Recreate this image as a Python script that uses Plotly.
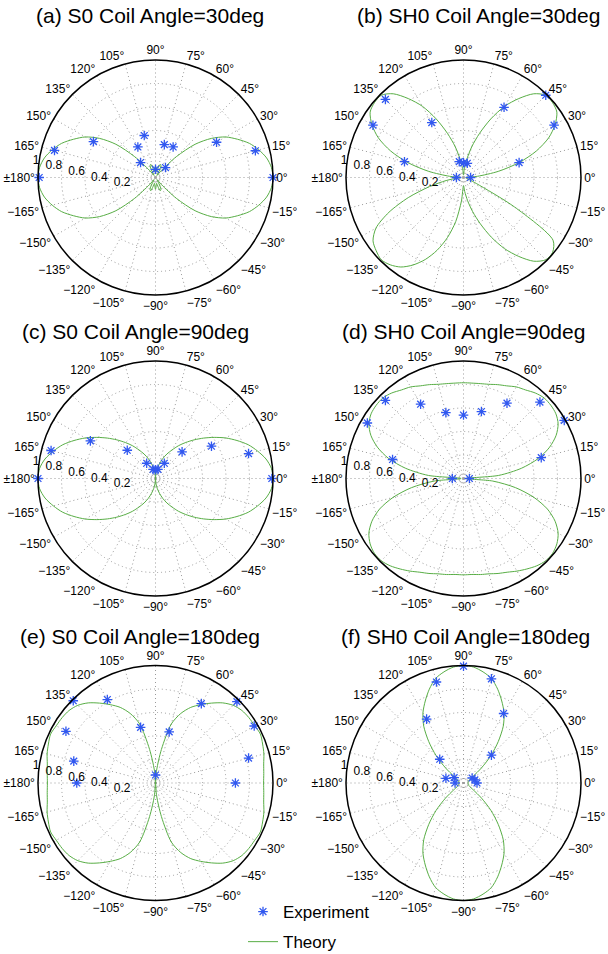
import plotly.graph_objects as go

# ---------------- data ----------------
TITLES = [
    "(a) S0 Coil Angle=30deg", "(b) SH0 Coil Angle=30deg",
    "(c) S0 Coil Angle=90deg", "(d) SH0 Coil Angle=90deg",
    "(e) S0 Coil Angle=180deg", "(f) SH0 Coil Angle=180deg",
]

# measurement angles (deg)
EXP_THETA = [0, 15, 30, 45, 60, 75, 90, 105, 120, 135, 150, 165, 180]
exp_a = [1.0, 0.88, 0.60, 0.12, 0.30, 0.29, 0.07, 0.37, 0.30, 0.18, 0.61, 0.89, 0.99]
exp_b = [0.06, 0.49, 0.89, 0.99, 0.69, 0.125, 0.125, 0.14, 0.54, 0.94, 0.89, 0.52, 0.06]
exp_c = [0.99, 0.82, 0.55, 0.32, 0.15, 0.08, 0.075, 0.08, 0.15, 0.34, 0.64, 0.92, 1.0]
exp_d = [0.05, 0.685, 0.99, 0.92, 0.74, 0.59, 0.54, 0.58, 0.73, 0.94, 0.945, 0.625, 0.095]
exp_e = [0.68, 0.82, 0.97, 0.98, 0.78, 0.45, 0.068, 0.49, 0.82, 0.99, 0.88, 0.72, 0.67]
exp_f = [0.115, 0.10, 0.085, 0.336, 0.683, 0.918, 0.994, 0.89, 0.628, 0.286, 0.092, 0.155, 0.072]

# theory angles: -180 .. 180 every 5 deg
TH_THETA = list(range(-180, 181, 5))

th_a = [1.0, 0.99, 0.96, 0.91, 0.85, 0.77, 0.69, 0.58, 0.44, 0.25, 0.08, 0.02,
        0.05, 0.11, 0.12, 0.08, 0.05, 0.07, 0.10, 0.07, 0.05, 0.08, 0.12, 0.11,
        0.05, 0.02, 0.08, 0.25, 0.44, 0.58, 0.69, 0.77, 0.85, 0.91, 0.96, 0.99,
        1.0,
        0.99, 0.96, 0.91, 0.85, 0.77, 0.69, 0.58, 0.44, 0.25, 0.08, 0.02,
        0.05, 0.11, 0.12, 0.08, 0.05, 0.07, 0.10, 0.07, 0.05, 0.08, 0.12, 0.11,
        0.05, 0.02, 0.08, 0.25, 0.44, 0.58, 0.69, 0.77, 0.85, 0.91, 0.96, 0.99, 1.0]

th_b = [0.02, 0.05, 0.15, 0.30, 0.50, 0.70, 0.86, 0.94, 0.97, 0.99, 0.97, 0.93,
        0.86, 0.77, 0.66, 0.53, 0.38, 0.20, 0.07, 0.12, 0.20, 0.30, 0.42, 0.56,
        0.70, 0.82, 0.93, 0.99, 0.99, 0.93, 0.50, 0.12, 0.05, 0.03, 0.02, 0.02,
        0.02,
        0.12, 0.30, 0.49, 0.66, 0.80, 0.90, 0.97, 0.99, 0.99, 0.93, 0.82,
        0.70, 0.55, 0.40, 0.27, 0.15, 0.06, 0.02, 0.06, 0.15, 0.27, 0.40, 0.55,
        0.70, 0.82, 0.93, 0.99, 0.99, 0.97, 0.90, 0.80, 0.66, 0.49, 0.30, 0.12, 0.02]

th_c = [1.0, 0.99, 0.955, 0.90, 0.84, 0.765, 0.69, 0.61, 0.535, 0.465, 0.40, 0.34,
        0.28, 0.23, 0.18, 0.13, 0.085, 0.045, 0.0, 0.045, 0.085, 0.13, 0.18, 0.23,
        0.28, 0.34, 0.40, 0.465, 0.535, 0.61, 0.69, 0.765, 0.84, 0.90, 0.955, 0.99,
        1.0,
        0.99, 0.955, 0.90, 0.84, 0.765, 0.69, 0.61, 0.535, 0.465, 0.40, 0.34,
        0.28, 0.23, 0.18, 0.13, 0.085, 0.045, 0.0, 0.045, 0.085, 0.13, 0.18, 0.23,
        0.28, 0.34, 0.40, 0.465, 0.535, 0.61, 0.69, 0.765, 0.84, 0.90, 0.955, 0.99, 1.0]

th_d = [0.02, 0.25, 0.45, 0.62, 0.76, 0.86, 0.93, 0.97, 0.99, 0.99, 0.97, 0.94,
        0.91, 0.88, 0.86, 0.84, 0.83, 0.82, 0.82, 0.82, 0.83, 0.84, 0.86, 0.88,
        0.91, 0.94, 0.97, 0.99, 0.99, 0.97, 0.93, 0.86, 0.76, 0.62, 0.45, 0.25,
        0.02,
        0.30, 0.50, 0.66, 0.78, 0.87, 0.93, 0.96, 0.97, 0.97, 0.95, 0.92,
        0.90, 0.87, 0.85, 0.83, 0.82, 0.815, 0.815, 0.815, 0.82, 0.83, 0.85, 0.87,
        0.90, 0.92, 0.95, 0.97, 0.97, 0.96, 0.93, 0.87, 0.78, 0.66, 0.50, 0.30, 0.02]

th_e = [0.92, 0.925, 0.935, 0.955, 0.97, 0.985, 0.975, 0.97, 0.96, 0.935, 0.89, 0.83,
        0.77, 0.71, 0.63, 0.52, 0.29, 0.11, 0.0, 0.11, 0.29, 0.52, 0.63, 0.71,
        0.77, 0.83, 0.89, 0.935, 0.96, 0.97, 0.975, 0.985, 0.97, 0.955, 0.935, 0.925,
        0.92,
        0.925, 0.935, 0.955, 0.97, 0.985, 0.975, 0.97, 0.96, 0.935, 0.89, 0.83,
        0.77, 0.71, 0.63, 0.52, 0.29, 0.11, 0.0, 0.11, 0.29, 0.52, 0.63, 0.71,
        0.77, 0.83, 0.89, 0.935, 0.96, 0.97, 0.975, 0.985, 0.97, 0.955, 0.935, 0.925, 0.92]

th_f = [0.04, 0.04, 0.04, 0.045, 0.045, 0.05, 0.06, 0.10, 0.20, 0.33, 0.46, 0.59,
        0.69, 0.77, 0.85, 0.92, 0.96, 0.99, 1.0, 0.99, 0.96, 0.92, 0.85, 0.77,
        0.69, 0.59, 0.46, 0.33, 0.20, 0.10, 0.06, 0.05, 0.045, 0.045, 0.04, 0.04,
        0.04,
        0.04, 0.04, 0.045, 0.045, 0.05, 0.06, 0.10, 0.20, 0.33, 0.46, 0.59,
        0.69, 0.77, 0.85, 0.92, 0.96, 0.99, 1.0, 0.99, 0.96, 0.92, 0.85, 0.77,
        0.69, 0.59, 0.46, 0.33, 0.20, 0.10, 0.06, 0.05, 0.045, 0.045, 0.04, 0.04, 0.04]

EXP = [exp_a, exp_b, exp_c, exp_d, exp_e, exp_f]
THEORY = [th_a, th_b, th_c, th_d, th_e, th_f]

ANG_TICKVALS = list(range(0, 360, 15))
ANG_TICKTEXT = ["0°", "15°", "30°", "45°", "60°", "75°", "90°", "105°", "120°",
                "135°", "150°", "165°", "±180°", "−165°", "−150°", "−135°",
                "−120°", "−105°", "−90°", "−75°", "−60°", "−45°", "−30°", "−15°"]
RAD_TICKVALS = [0.2, 0.4, 0.6, 0.8, 1.0]
RAD_TICKTEXT = ["0.2", "0.4", "0.6", "0.8", "1"]

# ---------------- layout geometry (px) ----------------
W, H = 608, 954
R = 117.5
CENTERS = [(155.5, 177.5), (463.5, 177.5), (155.5, 478.5), (463.5, 478.5),
           (155.5, 783.0), (463.5, 783.0)]
TITLE_POS = [(150, 16), (478, 16), (135, 331), (463, 331), (140, 636), (465, 636)]
RAD_ANGLE = 166

EXP_COLOR = "#3158f0"
TH_COLOR = "#58ad45"
GRID_COLOR = "#9a9a9a"
FONT = "Liberation Sans, Arial, sans-serif"

fig = go.Figure()
layout = dict(width=W, height=H, margin=dict(l=0, r=0, t=0, b=0, autoexpand=False),
              paper_bgcolor="white", plot_bgcolor="white",
              font=dict(family=FONT, color="black"))

annotations = []
for i in range(6):
    sub = "polar" if i == 0 else f"polar{i+1}"
    cx, cy = CENTERS[i]
    layout[sub] = dict(
        domain=dict(x=[(cx - R) / W, (cx + R) / W],
                    y=[1 - (cy + R) / H, 1 - (cy - R) / H]),
        bgcolor="white",
        radialaxis=dict(range=[0, 1], tickvals=RAD_TICKVALS, ticktext=RAD_TICKTEXT,
                        angle=RAD_ANGLE, tickangle=RAD_ANGLE, side="counterclockwise",
                        showline=False, ticks="", ticklen=0,
                        gridcolor=GRID_COLOR, griddash="1px,3px", gridwidth=1,
                        tickfont=dict(size=12, color="black", family=FONT)),
        angularaxis=dict(tickmode="array", tickvals=ANG_TICKVALS, ticktext=ANG_TICKTEXT,
                         rotation=0, direction="counterclockwise",
                         showline=True, linecolor="black", linewidth=1.5,
                         ticks="", gridcolor=GRID_COLOR, griddash="1px,3px", gridwidth=1,
                         tickfont=dict(size=12, color="black", family=FONT)),
    )
    tx, ty = TITLE_POS[i]
    annotations.append(dict(text=TITLES[i], x=tx / W, y=1 - ty / H, xref="paper",
                            yref="paper", xanchor="center", yanchor="middle",
                            showarrow=False, font=dict(size=21, family=FONT, color="black")))

    fig.add_trace(go.Scatterpolar(
        r=THEORY[i], theta=TH_THETA, mode="lines", name="Theory",
        line=dict(color=TH_COLOR, width=1, shape="spline", smoothing=0.8),
        subplot=sub, showlegend=(i == 0), legendrank=2, legendgroup="th"))
    fig.add_trace(go.Scatterpolar(
        r=EXP[i], theta=EXP_THETA, mode="markers", name="Experiment",
        marker=dict(symbol="asterisk-open", size=8, color=EXP_COLOR,
                    line=dict(color=EXP_COLOR, width=1.3)),
        subplot=sub, showlegend=(i == 0), legendrank=1, legendgroup="ex"))

layout["annotations"] = annotations
layout["legend"] = dict(x=243 / W, y=1 - 894 / H, xanchor="left", yanchor="top",
                        bgcolor="rgba(0,0,0,0)", borderwidth=0, tracegroupgap=5,
                        font=dict(size=17, family=FONT, color="black"))
fig.update_layout(**layout)
# remove the browser's default page margin so the figure sits at (0, 0)
fig.write_html("out.html", config={"displayModeBar": False},
               post_script="document.body.style.margin='0px';")
